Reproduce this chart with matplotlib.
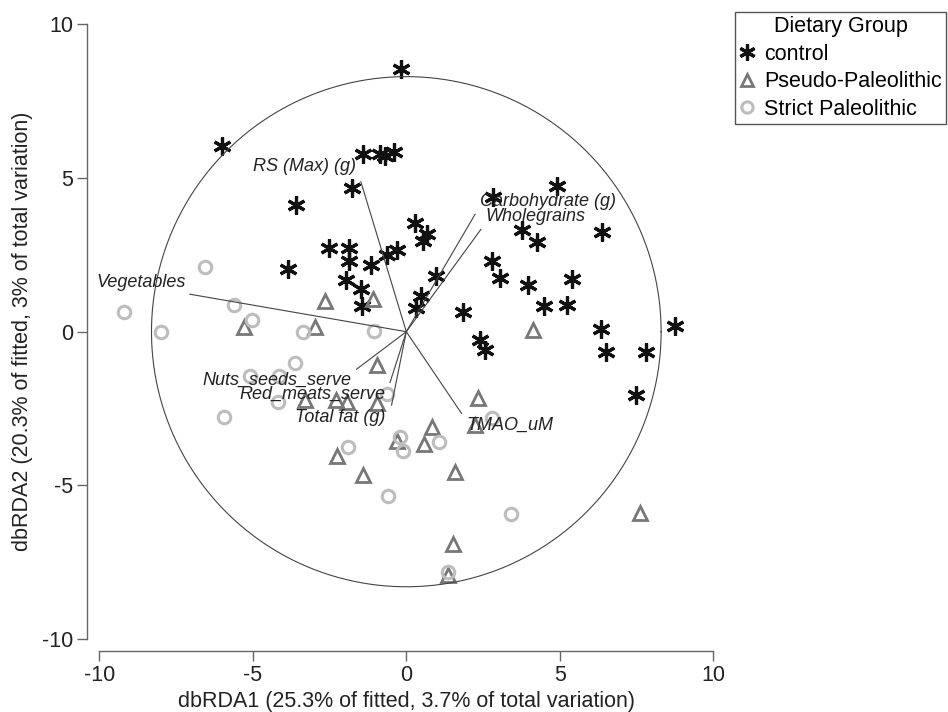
import matplotlib
matplotlib.use("Agg")
import matplotlib.pyplot as plt
import numpy as np

plt.rcParams['font.family'] = ['Liberation Sans', 'DejaVu Sans']
plt.rcParams['axes.unicode_minus'] = False

# sample scores on the first two dbRDA axes
control_x = [-0.17, -6.00, -1.41, -0.86, -0.69, -0.40, -1.77, -3.59, -2.52, -1.87,
             -1.87, -1.15, -3.85, -1.96, -1.48, -1.44, -0.63, -0.30, 0.28, 0.67,
             0.54, 0.97, 0.48, 0.32, 2.82, 4.91, 3.77, 4.26, 2.79, 3.05,
             3.96, 5.39, 4.49, 5.24, 1.85, 6.37, 6.34, 6.50, 7.81, 8.75,
             7.48, 2.40, 2.56]
control_y = [8.55, 6.04, 5.78, 5.78, 5.72, 5.85, 4.67, 4.12, 2.72, 2.72,
             2.30, 2.17, 2.04, 1.69, 1.40, 0.84, 2.50, 2.66, 3.55, 3.18,
             2.95, 1.81, 1.16, 0.77, 4.38, 4.74, 3.31, 2.92, 2.30, 1.75,
             1.52, 1.72, 0.84, 0.87, 0.64, 3.24, 0.09, -0.66, -0.66, 0.19,
             -2.06, -0.27, -0.60]

pseudo_x = [-2.65, -1.08, -5.29, -2.97, -0.95, -3.30, -2.29, -1.93, -0.95, 4.13,
            2.34, 2.24, 0.84, 0.58, -0.30, -2.26, -1.41, 1.59, 7.61, 1.52, 1.36]
pseudo_y = [1.00, 1.06, 0.15, 0.15, -1.08, -2.22, -2.22, -2.29, -2.32, 0.06,
            -2.16, -3.04, -3.10, -3.65, -3.56, -4.04, -4.66, -4.57, -5.90, -6.91, -7.92]

strict_x = [-6.56, -9.20, -7.99, -5.61, -5.03, -3.36, -1.05, -3.63, -5.09, -4.15,
            -4.18, -5.94, -0.63, -0.21, -0.11, -1.90, 1.07, -0.60, 1.36, 3.41, 2.79]
strict_y = [2.11, 0.64, -0.01, 0.87, 0.38, -0.01, 0.02, -1.02, -1.44, -1.44,
            -2.29, -2.78, -2.03, -3.43, -3.88, -3.75, -3.59, -5.35, -7.82, -5.93, -2.81]

# fitted diet variables (vector end points)
var_names = ['RS (Max) (g)', 'Vegetables', 'Carbohydrate (g)', 'Wholegrains',
             'Nuts_seeds_serve', 'Red_meats_serve', 'Total fat (g)', 'TMAO_uM']
var_x = [-1.48, -7.05, 2.24, 2.43, -1.62, -0.53, -0.48, 1.80]
var_y = [4.88, 1.22, 3.82, 3.33, -1.22, -1.65, -2.39, -2.66]

circle_r = 8.3

# label placement: (dx, dy) offset in points and horizontal alignment
lab_off = [(-3.6, 10.8, 'right'), (-2.9, 8.4, 'right'), (3.4, 9.1, 'left'), (3.3, 9.1, 'left'),
           (-3.6, -7.7, 'right'), (-3.6, -8.6, 'right'), (-4.1, -8.9, 'right'), (3.6, -8.4, 'left')]

fig = plt.figure(figsize=(9.48, 7.12), dpi=100)
ax = fig.add_axes([0.0921, 0.0857, 0.6733, 0.8973])

ax.plot(control_x, control_y, ls='none', marker=(6, 2, 0), ms=13, mew=2.3,
        color='#111111', label='control')
ax.plot(pseudo_x, pseudo_y, ls='none', marker='^', ms=9.5, mew=2, mfc='none',
        mec='#777777', label='Pseudo-Paleolithic')
ax.plot(strict_x, strict_y, ls='none', marker='o', ms=9, mew=2.2, mfc='none',
        mec='#bdbdbd', label='Strict Paleolithic')

t = np.linspace(0, 2 * np.pi, 400)
ax.plot(circle_r * np.cos(t), circle_r * np.sin(t), color='#444444', lw=0.8)

for name, vx, vy, (dx, dy, ha) in zip(var_names, var_x, var_y, lab_off):
    ax.plot([0, vx], [0, vy], color='#444444', lw=0.8)
    ax.annotate(name, (vx, vy), xytext=(dx, dy), textcoords='offset points',
                ha=ha, va='center', fontsize=13, style='italic', color='#222222')

ax.set_xlim(-10.39, 10.4)
ax.set_ylim(-10.39, 10.4)
for s in ['top', 'right']:
    ax.spines[s].set_visible(False)
for s in ['left', 'bottom']:
    ax.spines[s].set_bounds(-10, 10)
    ax.spines[s].set_color('#666666')
    ax.spines[s].set_linewidth(1)
ax.set_xticks([-10, -5, 0, 5, 10])
ax.set_yticks([-10, -5, 0, 5, 10])
ax.tick_params(length=7, width=1, color='#666666', labelsize=15.5,
               labelcolor='#222222', pad=3)

fig.text(406.3 / 948, 1 - 701.7 / 712, 'dbRDA1 (25.3% of fitted, 3.7% of total variation)',
         ha='center', va='center', fontsize=15.5, color='#222222')
fig.text(22.7 / 948, 1 - 331.7 / 712, 'dbRDA2 (20.3% of fitted, 3% of total variation)',
         ha='center', va='center', rotation=90, fontsize=15.5, color='#222222')

leg = fig.legend(loc='upper left', bbox_to_anchor=(735 / 948, 1 - 12 / 712),
                 title='Dietary Group', fontsize=15.5, title_fontsize=15.5,
                 frameon=True, fancybox=False, edgecolor='#555555', framealpha=1,
                 handlelength=0.7, handletextpad=0.45, labelspacing=0.3,
                 borderpad=0.2, borderaxespad=0, markerscale=0.9)
leg.get_frame().set_linewidth(1)

fig.savefig('out.png', dpi=100)
